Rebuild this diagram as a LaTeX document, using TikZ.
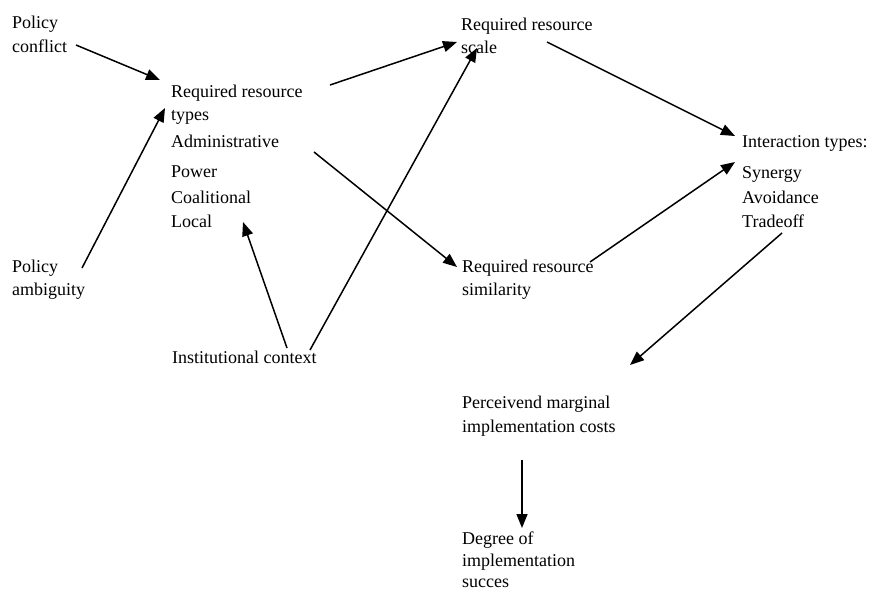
\documentclass[tikz,border=0pt]{standalone}
\usepackage{fontspec}
\setmainfont{Liberation Serif}
\usetikzlibrary{arrows.meta}
\begin{document}
\begin{tikzpicture}[x=1pt,y=-1pt,
  lbl/.style={anchor=base west,inner sep=0pt,font=\fontsize{18}{22}\selectfont},
  link/.style={line width=1.5pt,-{Triangle[length=14pt,width=11pt]}}]
\useasboundingbox (0,0) rectangle (869,592);
\fill[white] (0,0) rectangle (869,592);

% left column
\node[lbl] (pc1) at (12,28) {Policy};
\node[lbl] (pc2) at (12,52) {conflict};
\node[lbl] (pa1) at (12,272) {Policy};
\node[lbl] (pa2) at (12,295) {ambiguity};

% resource types block
\node[lbl] (rt1) at (171,97) {Required resource};
\node[lbl] (rt2) at (171,120) {types};
\node[lbl] (rt3) at (171,147) {Administrative};
\node[lbl] (rt4) at (171,177) {Power};
\node[lbl] (rt5) at (171,203) {Coalitional};
\node[lbl] (rt6) at (171,227) {Local};
\node[lbl] (ic) at (172,363) {Institutional context};

% middle column
\node[lbl] (rs1) at (461,30) {Required resource};
\node[lbl] (rs2) at (461,53) {scale};
\node[lbl] (sm1) at (462,272) {Required resource};
\node[lbl] (sm2) at (462,295) {similarity};
\node[lbl] (pm1) at (462,408) {Perceivend marginal};
\node[lbl] (pm2) at (462,432) {implementation costs};
\node[lbl] (dg1) at (462,544) {Degree of};
\node[lbl] (dg2) at (462,566) {implementation};
\node[lbl] (dg3) at (462,587) {succes};

% interaction types block
\node[lbl] (it1) at (742,147) {Interaction types:};
\node[lbl] (it2) at (742,178) {Synergy};
\node[lbl] (it3) at (742,203) {Avoidance};
\node[lbl] (it4) at (742,227) {Tradeoff};

% connector end points
\coordinate (pcOut) at (76,45);
\coordinate (rtIn1) at (160,80);
\coordinate (paOut) at (82,268);
\coordinate (rtIn2) at (165,108);
\coordinate (icOut1) at (287,348);
\coordinate (lcIn) at (243,222);
\coordinate (icOut2) at (310,350);
\coordinate (rsIn1) at (477,48);
\coordinate (rtOut1) at (330,85);
\coordinate (rsIn2) at (457,42);
\coordinate (rtOut2) at (314,152);
\coordinate (smIn) at (457,267);
\coordinate (rsOut) at (547,42);
\coordinate (itIn1) at (735,136);
\coordinate (smOut) at (590,262);
\coordinate (itIn2) at (735,162);
\coordinate (itOut) at (782,233);
\coordinate (pmIn) at (630,365);
\coordinate (pmOut) at (522,460);
\coordinate (dgIn) at (522,528);

\draw[link] (pcOut) -- (rtIn1);
\draw[link] (paOut) -- (rtIn2);
\draw[link] (icOut1) -- (lcIn);
\draw[link] (icOut2) -- (rsIn1);
\draw[link] (rtOut1) -- (rsIn2);
\draw[link] (rtOut2) -- (smIn);
\draw[link] (rsOut) -- (itIn1);
\draw[link] (smOut) -- (itIn2);
\draw[link] (itOut) -- (pmIn);
\draw[link] (pmOut) -- (dgIn);
\end{tikzpicture}
\end{document}
